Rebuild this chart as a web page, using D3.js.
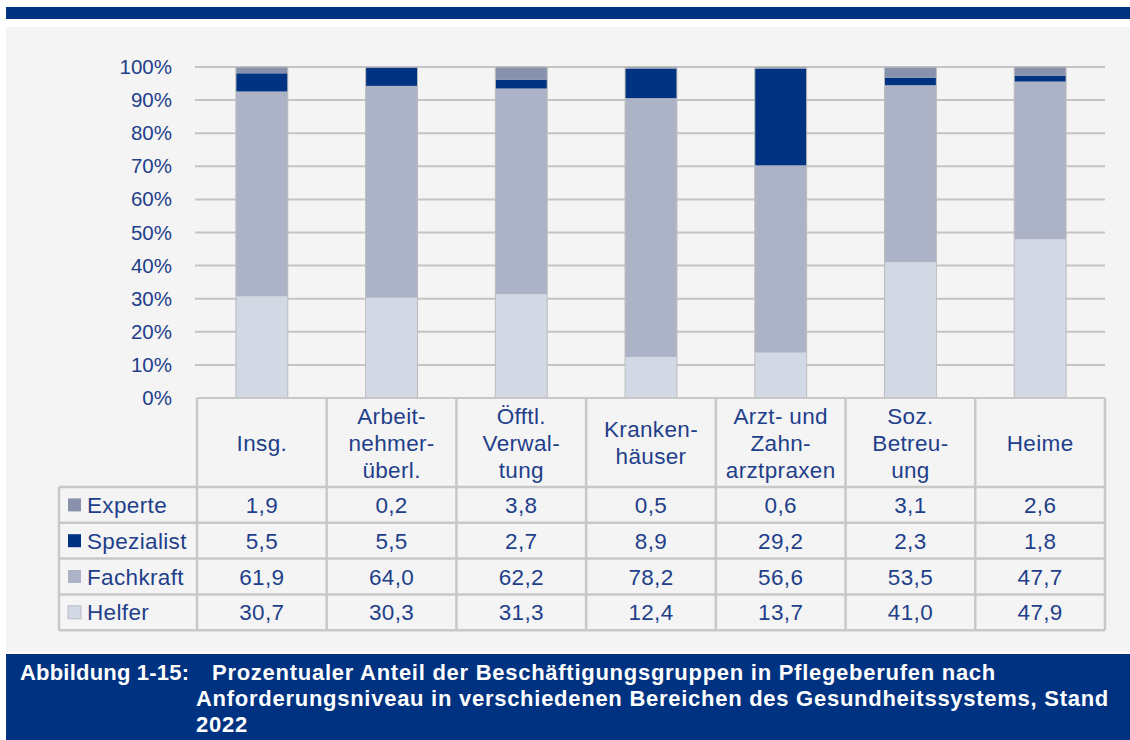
<!DOCTYPE html>
<html>
<head>
<meta charset="utf-8">
<script src="https://cdn.jsdelivr.net/npm/d3@7"></script>
<style>
  body { margin: 0; background: #fff; }
  svg { display: block; font-family: "Liberation Sans", Arial, sans-serif; }
</style>
</head>
<body>
<div id="chart"></div>
<script>
// categories (header lines of the table)
const categories = ["Insg.", "Arbeitnehmerüberl.", "Öfftl. Verwaltung", "Krankenhäuser",
                    "Arzt- und Zahnarztpraxen", "Soz. Betreuung", "Heime"];
const headerLines = [
  ["Insg."],
  ["Arbeit-", "nehmer-", "überl."],
  ["Öfftl.", "Verwal-", "tung"],
  ["Kranken-", "häuser"],
  ["Arzt- und", "Zahn-", "arztpraxen"],
  ["Soz.", "Betreu-", "ung"],
  ["Heime"]
];

// series (stack order: bottom -> top)
const helfer     = [30.7, 30.3, 31.3, 12.4, 13.7, 41.0, 47.9];
const fachkraft  = [61.9, 64.0, 62.2, 78.2, 56.6, 53.5, 47.7];
const spezialist = [5.5, 5.5, 2.7, 8.9, 29.2, 2.3, 1.8];
const experte    = [1.9, 0.2, 3.8, 0.5, 0.6, 3.1, 2.6];

const seriesNames = ["Helfer", "Fachkraft", "Spezialist", "Experte"];
const tableRows = ["Experte", "Spezialist", "Fachkraft", "Helfer"];
const yTicks = [0, 10, 20, 30, 40, 50, 60, 70, 80, 90, 100];

const colors = {
  Helfer: "#d3d9e4",
  Fachkraft: "#adb3c7",
  Spezialist: "#003282",
  Experte: "#8892ad"
};
const textColor = "#1f3f8a";
const navy = "#003282";

const W = 1130, H = 740;
const svg = d3.select("#chart").append("svg")
  .attr("width", W).attr("height", H);

// frame
svg.append("rect").attr("x", 6).attr("y", 7).attr("width", W - 6).attr("height", 12).attr("fill", navy);
svg.append("rect").attr("x", 6).attr("y", 27).attr("width", W - 6).attr("height", 625).attr("fill", "#f4f4f4");

const plotL = 197, plotR = 1105, plotT = 67, plotB = 398;

const rows = categories.map((c, i) => ({
  cat: c, Helfer: helfer[i], Fachkraft: fachkraft[i], Spezialist: spezialist[i], Experte: experte[i]
}));

const x = d3.scaleBand().domain(categories).range([plotL, plotR]).paddingInner(0).paddingOuter(0);
const y = d3.scaleLinear().domain([0, 100]).range([plotB, plotT]);

// grid
svg.append("g").selectAll("line")
  .data(yTicks.filter(t => t > 0))
  .join("line")
  .attr("x1", plotL - 2).attr("x2", plotR)
  .attr("y1", d => y(d)).attr("y2", d => y(d))
  .attr("stroke", "#c4c4c4").attr("stroke-width", 2);

// y axis labels
const yAxis = svg.append("g")
  .attr("transform", `translate(${plotL - 22},0)`)
  .call(d3.axisLeft(y).tickValues(yTicks).tickSize(0).tickFormat(d => d + "%"));
yAxis.select(".domain").remove();
yAxis.selectAll("text")
  .attr("fill", textColor).attr("font-size", 20.5)
  .attr("font-family", "'Liberation Sans', Arial, sans-serif");

// bars
const stack = d3.stack().keys(seriesNames)(rows);
const barW = x.bandwidth() * 0.4;
svg.append("g").selectAll("g")
  .data(stack)
  .join("g")
  .attr("fill", d => colors[d.key])
  .selectAll("rect")
  .data(d => d)
  .join("rect")
  .attr("x", d => x(d.data.cat) + (x.bandwidth() - barW) / 2)
  .attr("width", barW)
  .attr("y", d => y(Math.min(d[1], 100)))
  .attr("height", d => y(d[0]) - y(Math.min(d[1], 100)));

// thin side edges of the bars
svg.append("g").selectAll("rect")
  .data(categories)
  .join("rect")
  .attr("x", d => x(d) + (x.bandwidth() - barW) / 2)
  .attr("width", barW)
  .attr("y", y(100))
  .attr("height", y(0) - y(100))
  .attr("fill", "none")
  .attr("stroke", "#bcbcbc")
  .attr("stroke-width", 1);

// table
const headTop = plotB, headBot = 487;
const rowH = 35.8;
const legL = 59;
const tableBot = headBot + rowH * tableRows.length;
const lineCol = "#c8c8c8";
const fs = 22.5, ls = 0.35;
const tg = svg.append("g");

// horizontal lines
tg.append("line").attr("x1", plotL).attr("x2", plotR).attr("y1", headTop).attr("y2", headTop)
  .attr("stroke", lineCol).attr("stroke-width", 2);
d3.range(tableRows.length + 1).forEach(i => {
  const yy = headBot + i * rowH;
  tg.append("line").attr("x1", legL).attr("x2", plotR).attr("y1", yy).attr("y2", yy)
    .attr("stroke", lineCol).attr("stroke-width", 2.5);
});
// vertical lines
tg.append("line").attr("x1", legL).attr("x2", legL).attr("y1", headBot).attr("y2", tableBot)
  .attr("stroke", lineCol).attr("stroke-width", 2.5);
categories.forEach((c, i) => {
  const xx = x(c);
  tg.append("line").attr("x1", xx).attr("x2", xx).attr("y1", headTop).attr("y2", tableBot)
    .attr("stroke", lineCol).attr("stroke-width", 2.5);
});
tg.append("line").attr("x1", plotR).attr("x2", plotR).attr("y1", headTop).attr("y2", tableBot)
  .attr("stroke", lineCol).attr("stroke-width", 2.5);

// header text
headerLines.forEach((lines, i) => {
  const cx = x(categories[i]) + x.bandwidth() / 2;
  const mid = (headTop + headBot) / 2;
  const lh = 27;
  lines.forEach((t, j) => {
    tg.append("text")
      .attr("x", cx)
      .attr("y", mid + (j - (lines.length - 1) / 2) * lh)
      .attr("dy", "0.36em")
      .attr("text-anchor", "middle")
      .attr("fill", textColor)
      .attr("font-size", fs)
      .attr("letter-spacing", ls)
      .text(t);
  });
});

// rows
const seriesData = { Experte: experte, Spezialist: spezialist, Fachkraft: fachkraft, Helfer: helfer };
tableRows.forEach((name, r) => {
  const cy = headBot + r * rowH + rowH / 2;
  tg.append("rect").attr("x", 68).attr("y", cy - 6.5).attr("width", 13).attr("height", 13)
    .attr("fill", colors[name]).attr("stroke", name === "Helfer" ? "#b8bcc8" : "none");
  tg.append("text").attr("x", 87).attr("y", cy).attr("dy", "0.36em")
    .attr("fill", textColor).attr("font-size", fs).attr("letter-spacing", ls).text(name);
  seriesData[name].forEach((v, i) => {
    tg.append("text")
      .attr("x", x(categories[i]) + x.bandwidth() / 2)
      .attr("y", cy).attr("dy", "0.36em")
      .attr("text-anchor", "middle")
      .attr("fill", textColor).attr("font-size", fs).attr("letter-spacing", ls)
      .text(v.toFixed(1).replace(".", ","));
  });
});

// caption
svg.append("rect").attr("x", 6).attr("y", 654).attr("width", W - 6).attr("height", H - 654).attr("fill", navy);
const cap = svg.append("g").attr("fill", "#fff").attr("font-weight", "bold").attr("font-size", 22);
cap.append("text").attr("x", 20).attr("y", 680).attr("letter-spacing", 0.2).text("Abbildung 1-15:");
cap.append("text").attr("x", 212).attr("y", 680).attr("letter-spacing", 0.73)
  .text("Prozentualer Anteil der Beschäftigungsgruppen in Pflegeberufen nach");
cap.append("text").attr("x", 196).attr("y", 706).attr("letter-spacing", 0.73)
  .text("Anforderungsniveau in verschiedenen Bereichen des Gesundheitssystems, Stand");
cap.append("text").attr("x", 196).attr("y", 732).attr("letter-spacing", 0.73).text("2022");
</script>
</body>
</html>
